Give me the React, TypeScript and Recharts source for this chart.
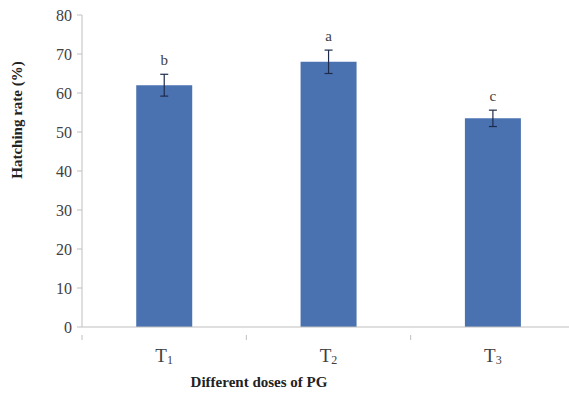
import { Bar, BarChart, ErrorBar, LabelList, XAxis, YAxis } from "recharts";

// Treatments and their mean hatching rates (%)
const treatments = ["1", "2", "3"];
const hatchRate = [62, 68, 53.5];
const stdErr = [2.8, 3.0, 2.1];
const letters = ["b", "a", "c"];
const yTicks = [0, 10, 20, 30, 40, 50, 60, 70, 80];

const data = treatments.map((t, i) => ({
  name: t,
  rate: hatchRate[i],
  err: stdErr[i],
  letter: letters[i],
}));

const serif = "'Liberation Serif', 'Times New Roman', serif";
const axisGray = "#bfbfbf";

// category label "T" with subscript, plus a tick mark at the left band edge
const TreatmentTick = (props: any) => {
  const { x, y, payload } = props;
  const half = payload.offset ?? 82;
  return (
    <g>
      <line x1={x - half} y1={y} x2={x - half} y2={y + 5} stroke={axisGray} />
      <text x={x} y={y + 27} textAnchor="middle" fontFamily={serif} fontSize={19} fill="#404040">
        T
        <tspan fontSize={12} dy={2}>
          {payload.value}
        </tspan>
      </text>
    </g>
  );
};

// significance letter sitting above the error bar
const LetterLabel = (props: any) => {
  const { x, y, width, height, index } = props;
  const d = data[index];
  const perUnit = height / d.rate;
  const top = y - d.err * perUnit;
  return (
    <text x={x + width / 2} y={top - 9} textAnchor="middle" fontFamily={serif} fontSize={15} fill="#404040">
      {d.letter}
    </text>
  );
};

export default function App() {
  return (
    <div
      style={{
        position: "absolute",
        left: 0,
        top: 0,
        width: 569,
        height: 393,
        overflow: "hidden",
        background: "#fff",
      }}
    >
      <BarChart
        width={575}
        height={393}
        data={data}
        margin={{ top: 15, right: 0, left: 0, bottom: 0 }}
        barCategoryGap="33%"
      >
        <XAxis
          dataKey="name"
          height={66}
          axisLine={{ stroke: axisGray }}
          tickLine={false}
          tick={<TreatmentTick />}
          interval={0}
          label={() => (
            <text
              x={259}
              y={387}
              textAnchor="middle"
              fontFamily={serif}
              fontWeight="bold"
              fontSize={15}
              fill="#222"
            >
              Different doses of PG
            </text>
          )}
        />
        <YAxis
          width={82}
          domain={[0, 80]}
          ticks={yTicks}
          interval={0}
          axisLine={{ stroke: axisGray }}
          tickLine={{ stroke: axisGray }}
          tickSize={5}
          tickMargin={5}
          tick={{ fontFamily: serif, fontSize: 16, fill: "#404040" }}
          label={() => (
            <text
              x={22}
              y={120}
              transform="rotate(-90 22 120)"
              textAnchor="middle"
              fontFamily={serif}
              fontWeight="bold"
              fontSize={15}
              fill="#222"
            >
              Hatching rate (%)
            </text>
          )}
        />
        <Bar dataKey="rate" fill="#4a72b0" isAnimationActive={false}>
          <ErrorBar dataKey="err" width={4} stroke="#1e2b4a" strokeWidth={1.2} />
          <LabelList dataKey="letter" content={<LetterLabel />} />
        </Bar>
      </BarChart>
    </div>
  );
}
